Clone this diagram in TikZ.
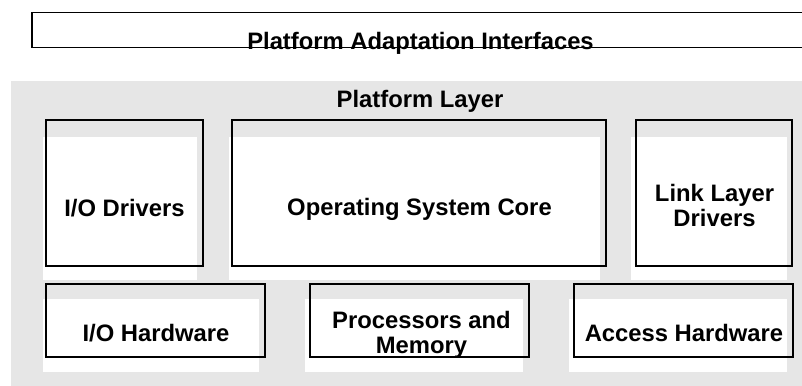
\documentclass[tikz,border=0pt]{standalone}
\usepackage{fontspec}
\setmainfont{Liberation Sans}
\definecolor{layergray}{HTML}{E6E6E6}
\begin{document}
\begin{tikzpicture}[x=0.5pt,y=-0.5pt,
  frame/.style={draw=black, line width=0.75pt, inner sep=0pt, anchor=north west},
  panel/.style={fill=white, draw=none},
  label/.style={font=\bfseries\fontsize{11.9}{12.75}\selectfont, inner sep=0pt, align=center}]
\useasboundingbox (0,0) rectangle (802,385);
\fill[white] (0,0) rectangle (802,385);

% platform layer background
\fill[layergray] (11,81) rectangle (810,390);

% white panels behind the component boxes
\fill[panel] (43,137) rectangle (197,280);
\fill[panel] (229,137) rectangle (600,280);
\fill[panel] (631,137) rectangle (787,280);
\fill[panel] (43,299) rectangle (259,372);
\fill[panel] (305,299) rectangle (523,372);
\fill[panel] (569,299) rectangle (787,372);

% component outlines
\node[frame, minimum width=387pt, minimum height=17.5pt] (pai) at (31,12) {};
\node[frame, minimum width=78.5pt, minimum height=73pt] (iodrv) at (45,119) {};
\node[frame, minimum width=187pt, minimum height=73pt] (oscore) at (231,119) {};
\node[frame, minimum width=78pt, minimum height=73pt] (linkdrv) at (635,119) {};
\node[frame, minimum width=109.5pt, minimum height=36.5pt] (iohw) at (45,283) {};
\node[frame, minimum width=109.5pt, minimum height=36.5pt] (procmem) at (309,283) {};
\node[frame, minimum width=109.5pt, minimum height=36.5pt] (accesshw) at (573,283) {};

% labels
\node[label, anchor=base] (paiText) at (420.5,49.5) {Platform Adaptation Interfaces};
\node[label, anchor=base] (layerText) at (420,107) {Platform Layer};
\node[label, anchor=base] (iodrvText) at (124.5,216) {I/O Drivers};
\node[label, anchor=base] (oscoreText) at (419.5,215) {Operating System Core};
\node[label] (linkdrvText) at (714.5,205.5) {Link Layer\\Drivers};
\node[label, anchor=base] (iohwText) at (156,341) {I/O Hardware};
\node[label] (procmemText) at (421.5,335) {Processors and\\Memory};
\node[label, anchor=base] (accesshwText) at (684,341) {Access Hardware};
\end{tikzpicture}
\end{document}
